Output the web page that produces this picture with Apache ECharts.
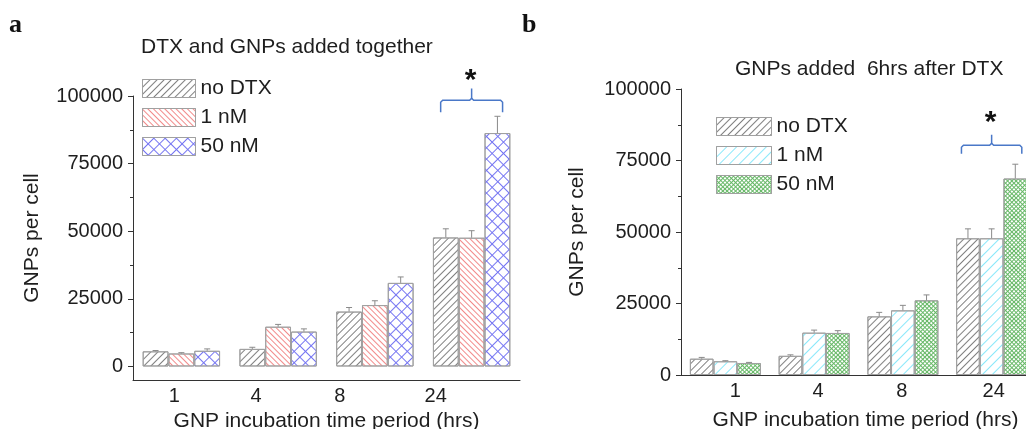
<!DOCTYPE html>
<html>
<head>
<meta charset="utf-8">
<script src="https://cdn.jsdelivr.net/npm/echarts@6/dist/echarts.min.js"></script>
<style>
html, body { margin: 0; padding: 0; background: #fff; }
#chart { width: 1026px; height: 429px; }
</style>
</head>
<body>
<div id="chart"></div>
<script>
const categories = ['1', '4', '8', '24']
const seriesNames = ['no DTX', '1 nM', '50 nM']

// panel a - DTX and GNPs added together
const togetherNoDtx = [5600, 6500, 20300, 47700]
const together1nM = [4800, 14700, 22700, 47600]
const together50nM = [5800, 12900, 30900, 86300]
const togetherNoDtxErr = [300, 600, 1500, 3200]
const together1nMErr = [300, 850, 1600, 2600]
const together50nMErr = [700, 1000, 2200, 6200]

// panel b - GNPs added 6hrs after DTX
const afterNoDtx = [5700, 6700, 20500, 47800]
const after1nM = [4800, 14800, 22600, 47800]
const after50nM = [4200, 14700, 26100, 68700]
const afterNoDtxErr = [450, 350, 1400, 3300]
const after1nMErr = [200, 900, 1750, 3300]
const after50nMErr = [200, 800, 1900, 5000]

const yTicks = [0, 25000, 50000, 75000, 100000]
const yMinorTicks = [12500, 37500, 62500, 87500]

const textColor = '#1e1e1e'
const fontFamily = 'Liberation Sans'
const borderGray = '#a0a0a0'

function lines(color, gap, rotation) {
    return {symbol: 'rect', symbolSize: 1, dashArrayX: [1, 0], dashArrayY: [1, gap], rotation: rotation, color: color}
}
function cross(color, gap) {
    return {symbol: 'rect', symbolSize: 1, dashArrayX: [[1, 0], [1, gap]], dashArrayY: [1, 0, gap, 0], rotation: Math.PI / 4, color: color}
}

const decalsA = [lines('#808080', 4, -Math.PI / 4), lines('#f28a8a', 3, Math.PI / 4), cross('#7474f2', 7)]
const decalsB = [lines('#808080', 4, -Math.PI / 4), lines('#8ae8fa', 6, -Math.PI / 4), cross('#66b866', 2)]

let chartDom = document.getElementById('chart')
let myChart = echarts.init(chartDom)

function barSeries(name, values, decal, axisIndex) {
    return {
        type: 'bar',
        name: name,
        xAxisIndex: axisIndex,
        yAxisIndex: axisIndex === 0 ? 0 : 2,
        data: values,
        barGap: '0%',
        barCategoryGap: '20%',
        itemStyle: {color: '#ffffff', borderColor: borderGray, borderWidth: 1, decal: decal},
        emphasis: {disabled: true},
        animation: false
    }
}

function errorSeries(valueLists, errLists, axisIndex) {
    let data = []
    valueLists.forEach((vals, k) => {
        vals.forEach((v, i) => data.push([i, v, errLists[k][i], k]))
    })
    return {
        type: 'custom',
        name: 'err' + axisIndex,
        xAxisIndex: axisIndex,
        yAxisIndex: axisIndex === 0 ? 0 : 2,
        data: data,
        z: 5,
        animation: false,
        renderItem: function (params, api) {
            let cat = api.value(0)
            let v = api.value(1)
            let e = api.value(2)
            let k = api.value(3)
            let band = api.size([1, 0])[0]
            let bw = band * 0.8 / 3
            let base = api.coord([cat, v])
            let top = api.coord([cat, v + e])
            let cx = base[0] - band * 0.4 + bw * (k + 0.5)
            let st = {stroke: '#8a8a8a', lineWidth: 1}
            return {
                type: 'group',
                children: [
                    {type: 'line', shape: {x1: cx, y1: base[1], x2: cx, y2: top[1]}, style: st},
                    {type: 'line', shape: {x1: cx - 3, y1: top[1], x2: cx + 3, y2: top[1]}, style: st}
                ]
            }
        }
    }
}

function richLabels(paddings) {
    let rich = {}
    paddings.forEach((p, i) => {
        rich['t' + i] = {fontSize: 20, fontFamily: fontFamily, color: textColor, padding: p}
    })
    return rich
}

const axisLineStyle = {color: '#333', width: 1}
const plainNumber = v => String(v)
const legendItemStyle = {borderColor: borderGray, borderWidth: 1}

let option = {
    backgroundColor: '#fff',
    textStyle: {fontFamily: fontFamily, color: textColor},
    title: [
        {text: 'DTX and GNPs added together', left: 141, top: 37, padding: 0,
            textStyle: {fontSize: 21, fontWeight: 'normal', color: textColor, fontFamily: fontFamily}},
        {text: 'GNPs added  6hrs after DTX', left: 735, top: 59, padding: 0,
            textStyle: {fontSize: 21, fontWeight: 'normal', color: textColor, fontFamily: fontFamily}}
    ],
    legend: [
        {
            data: seriesNames, orient: 'vertical', left: 142, top: 78, padding: 0,
            icon: 'rect', itemWidth: 53, itemHeight: 18, itemGap: 8, selectedMode: false,
            itemStyle: legendItemStyle,
            textStyle: {fontSize: 21, color: textColor, fontFamily: fontFamily}
        },
        {
            data: seriesNames.map(n => 'b:' + n), orient: 'vertical', left: 716, top: 116, padding: 0,
            icon: 'rect', itemWidth: 55, itemHeight: 18, itemGap: 8, selectedMode: false,
            itemStyle: legendItemStyle,
            formatter: name => name.replace('b:', ''),
            textStyle: {fontSize: 21, color: textColor, fontFamily: fontFamily}
        }
    ],
    grid: [
        {left: 133, top: 96, width: 387, height: 284, outerBoundsMode: 'none'},
        {left: 681, top: 89, width: 355, height: 286, outerBoundsMode: 'none'}
    ],
    xAxis: [
        {
            type: 'category', gridIndex: 0, data: categories,
            axisLine: {onZero: false, lineStyle: axisLineStyle},
            axisTick: {show: false},
            axisLabel: {
                margin: 6,
                formatter: (value, index) => '{t' + index + '|' + value + '}',
                rich: richLabels([[0, 14, 0, 0], [0, 44, 0, 0], [0, 70, 0, 0], [0, 72, 0, 0]])
            },
            name: 'GNP incubation time period (hrs)', nameLocation: 'middle', nameGap: 23,
            nameTextStyle: {fontSize: 21, color: textColor, fontFamily: fontFamily}
        },
        {
            type: 'category', gridIndex: 1, data: categories,
            axisLine: {onZero: false, lineStyle: axisLineStyle},
            axisTick: {show: false},
            axisLabel: {
                margin: 6,
                formatter: (value, index) => '{t' + index + '|' + value + '}',
                rich: richLabels([[0, 0, 0, 20], [0, 0, 0, 8], [0, 2, 0, 0], [0, 0, 0, 4]])
            },
            name: 'GNP incubation time period (hrs)', nameLocation: 'middle', nameGap: 35,
            nameTextStyle: {fontSize: 21, color: textColor, fontFamily: fontFamily, padding: [0, 0, 0, 14]}
        }
    ],
    yAxis: [
        {
            type: 'value', gridIndex: 0, min: -5000, max: 100000, position: 'left',
            splitLine: {show: false},
            axisLine: {show: true, lineStyle: axisLineStyle},
            axisTick: {show: true, length: 5, customValues: yTicks, lineStyle: axisLineStyle},
            axisLabel: {fontSize: 20, color: textColor, margin: 10, customValues: yTicks, formatter: plainNumber},
            name: 'GNPs per cell', nameLocation: 'middle', nameGap: 90, nameRotate: 90,
            nameTextStyle: {fontSize: 21, color: textColor, fontFamily: fontFamily}
        },
        {
            type: 'value', gridIndex: 0, min: -5000, max: 100000, position: 'left',
            splitLine: {show: false},
            axisLine: {show: false},
            axisTick: {show: true, length: 3, customValues: yMinorTicks, lineStyle: axisLineStyle},
            axisLabel: {show: false}
        },
        {
            type: 'value', gridIndex: 1, min: 0, max: 100000, interval: 25000, position: 'left',
            splitLine: {show: false},
            axisLine: {show: true, lineStyle: axisLineStyle},
            axisTick: {show: true, length: 5, lineStyle: axisLineStyle},
            minorTick: {show: true, splitNumber: 2, length: 3, lineStyle: axisLineStyle},
            axisLabel: {fontSize: 20, color: textColor, margin: 10, formatter: plainNumber},
            name: 'GNPs per cell', nameLocation: 'middle', nameGap: 93, nameRotate: 90,
            nameTextStyle: {fontSize: 21, color: textColor, fontFamily: fontFamily}
        }
    ],
    series: [
        barSeries(seriesNames[0], togetherNoDtx, decalsA[0], 0),
        barSeries(seriesNames[1], together1nM, decalsA[1], 0),
        barSeries(seriesNames[2], together50nM, decalsA[2], 0),
        errorSeries([togetherNoDtx, together1nM, together50nM], [togetherNoDtxErr, together1nMErr, together50nMErr], 0),
        barSeries('b:' + seriesNames[0], afterNoDtx, decalsB[0], 1),
        barSeries('b:' + seriesNames[1], after1nM, decalsB[1], 1),
        barSeries('b:' + seriesNames[2], after50nM, decalsB[2], 1),
        errorSeries([afterNoDtx, after1nM, after50nM], [afterNoDtxErr, after1nMErr, after50nMErr], 1)
    ]
}
myChart.setOption(option)

// significance brackets over the 24 hrs group, placed through the axes
function bracket(axisIndex, yAxisIndex, levels, halfWidth) {
    let finder = {xAxisIndex: axisIndex, yAxisIndex: yAxisIndex}
    let c = myChart.convertToPixel(finder, [3, levels[1]])
    let prev = myChart.convertToPixel(finder, [2, levels[1]])
    let band = c[0] - prev[0]
    let x0 = c[0] - band * halfWidth
    let x1 = c[0] + band * halfWidth
    let yEnd = myChart.convertToPixel(finder, [3, levels[0]])[1]
    let yH = c[1]
    let yTop = myChart.convertToPixel(finder, [3, levels[2]])[1]
    let yStar = myChart.convertToPixel(finder, [3, levels[3]])[1]
    let st = {stroke: '#4a78c8', lineWidth: 1.5, fill: null}
    return [
        {type: 'polyline', shape: {points: [[x0, yEnd], [x0, yH + 2], [x0 + 2, yH], [c[0] - 2, yH], [c[0], yH - 2], [c[0], yTop]]}, style: st},
        {type: 'polyline', shape: {points: [[c[0], yH - 2], [c[0] + 2, yH], [x1 - 2, yH], [x1, yH + 2], [x1, yEnd]]}, style: st},
        {type: 'text', style: {text: '*', x: c[0] - 1, y: yStar, align: 'center', verticalAlign: 'middle',
            font: 'bold 30px "Liberation Sans"', fill: '#111'}}
    ]
}

myChart.setOption({
    graphic: [
        {type: 'text', style: {text: 'a', x: 9, y: 25, verticalAlign: 'middle', font: 'bold 26px "Liberation Serif"', fill: '#111'}},
        {type: 'text', style: {text: 'b', x: 522, y: 25, verticalAlign: 'middle', font: 'bold 26px "Liberation Serif"', fill: '#111'}}
    ].concat(bracket(0, 0, [94000, 98400, 102800, 105800], 0.32))
        .concat(bracket(1, 2, [77400, 80300, 84000, 88200], 0.34))
})

window.addEventListener('resize', () => {
    myChart.resize()
})
</script>
</body>
</html>
